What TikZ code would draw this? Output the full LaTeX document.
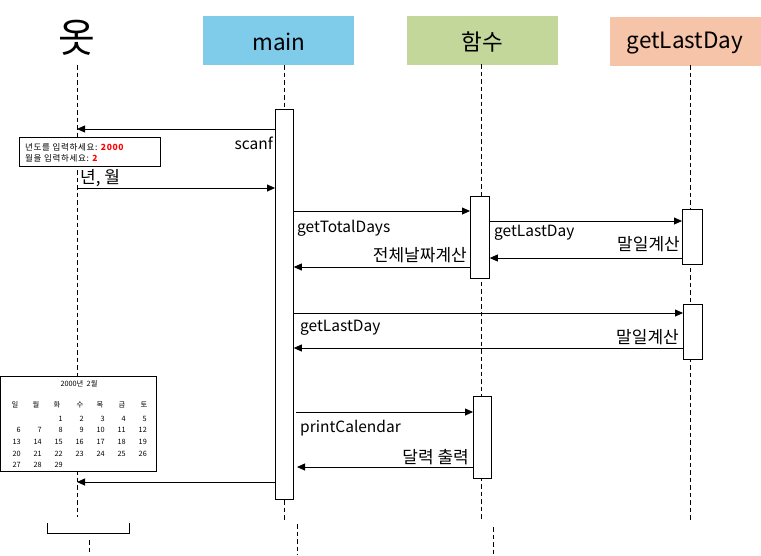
\documentclass[tikz,border=0pt]{standalone}
\usepackage{fontspec}
\setmainfont{Noto Sans CJK KR}
\usetikzlibrary{arrows.meta}
\definecolor{mainblue}{HTML}{7FCBEA}
\definecolor{funcgreen}{HTML}{C4D79B}
\definecolor{lastpeach}{HTML}{F6C4A8}
\tikzset{
  life/.style={line width=0.8pt, dash pattern=on 4.5pt off 3pt},
  headbox/.style={minimum width=151pt, minimum height=49pt, inner sep=0pt},
  headtxt/.style={inner sep=0pt, font=\fontsize{22.5}{24}\selectfont},
  actbox/.style={draw=black, fill=white, line width=0.8pt, inner sep=0pt},
  msg/.style={line width=0.8pt, -{Triangle[length=8pt,width=7pt]}},
  lbl/.style={inner sep=0pt, font=\fontsize{15.5}{17}\selectfont},
  lblk/.style={inner sep=0pt, font=\fontsize{17}{19}\selectfont},
  con/.style={inner sep=0pt, font=\fontsize{8.5}{9}\selectfont\addfontfeatures{LetterSpace=8}},
  cal/.style={inner sep=0pt, font=\fontsize{7.3}{8}\selectfont},
}
\begin{document}
\begin{tikzpicture}[x=1pt,y=-1pt]
\useasboundingbox (0,0) rectangle (761,555);
% headers
\node[inner sep=0pt, font=\fontsize{40}{42}\selectfont] (actor) at (77,38) {옷};
\node[headbox, fill=mainblue, anchor=north west] (mainH) at (203,16) {};
\node[headtxt] (mainT) at (279,42) {main};
\node[headbox, fill=funcgreen, anchor=north west] (funcH) at (407,16) {};
\node[headtxt] (funcT) at (482,42) {함수};
\node[headbox, fill=lastpeach, anchor=north west] (lastH) at (610,17) {};
\node[headtxt] (lastT) at (685,43) {getLastDay};
% lifeline coordinates
\coordinate (aTop) at (77,65);   \coordinate (aBot) at (77,517);
\coordinate (mTop) at (284,65);  \coordinate (mBot) at (284,522);
\coordinate (fTop) at (481,64);  \coordinate (fBot) at (481,521);
\coordinate (lTop) at (690,65);  \coordinate (lBot) at (690,522);
\draw[life] (aTop) -- (aBot);
\draw[life] (mTop) -- (mBot);
\draw[life] (fTop) -- (fBot);
\draw[life] (lTop) -- (lBot);
% shifted lower fragments
\coordinate (a2Top) at (89,540); \coordinate (a2Bot) at (89,555);
\coordinate (m2Top) at (297,524); \coordinate (m2Bot) at (297,555);
\coordinate (f2Top) at (493,527); \coordinate (f2Bot) at (493,555);
\draw[life] (a2Top) -- (a2Bot);
\draw[life] (m2Top) -- (m2Bot);
\draw[life] (f2Top) -- (f2Bot);
\coordinate (pb1) at (47,523); \coordinate (pb2) at (47,533);
\coordinate (pb3) at (129,533); \coordinate (pb4) at (129,523);
\draw[line width=0.8pt] (pb1) -- (pb2) -- (pb3) -- (pb4);
% activation boxes
\node[actbox, minimum width=18pt, minimum height=390pt, anchor=north west] (mA) at (275,109) {};
\node[actbox, minimum width=19pt, minimum height=82pt, anchor=north west] (fA1) at (470,196) {};
\node[actbox, minimum width=20pt, minimum height=55pt, anchor=north west] (lA1) at (682,209) {};
\node[actbox, minimum width=19pt, minimum height=55pt, anchor=north west] (lA2) at (683,304) {};
\node[actbox, minimum width=18pt, minimum height=82pt, anchor=north west] (fA2) at (473,396) {};
% console box
\node[draw=black, fill=white, line width=0.8pt, minimum width=141pt, minimum height=29pt, inner sep=0pt, anchor=north west] (conBox) at (19,137) {};
\node[con, anchor=west] (con1) at (25,147) {년도를 입력하세요: \textcolor{red}{\textbf{2000}}};
\node[con, anchor=west] (con2) at (25,158) {월을 입력하세요: \textcolor{red}{\textbf{2}}};
% calendar box
\node[draw=black, fill=white, line width=0.8pt, minimum width=156pt, minimum height=95pt, inner sep=0pt, anchor=north west] (calBox) at (0,376) {};
\node[cal] (calT) at (79,384) {2000년\ \ 2월};
\foreach \d/\x in {일/15,월/36,화/57,수/80,목/100,금/122,토/144}{
  \node[cal] at (\x,405) {\d};
}
\foreach \n/\c/\r in {1/3/1,2/4/1,3/5/1,4/6/1,5/7/1,
  6/1/2,7/2/2,8/3/2,9/4/2,10/5/2,11/6/2,12/7/2,
  13/1/3,14/2/3,15/3/3,16/4/3,17/5/3,18/6/3,19/7/3,
  20/1/4,21/2/4,22/3/4,23/4/4,24/5/4,25/6/4,26/7/4,
  27/1/5,28/2/5,29/3/5}{
  \pgfmathsetmacro{\xx}{21*\c}
  \pgfmathsetmacro{\yy}{407+11.6*\r}
  \node[cal, anchor=east] at (\xx,\yy) {\n};
}
% messages
\draw[msg] (mA.west |- 0,129) -- (aTop |- 0,129);
\node[lbl, anchor=east] (scanfL) at (273,143) {scanf};
\draw[msg] (aTop |- 0,188) -- (mA.west |- 0,188);
\node[lblk, anchor=west] (ymL) at (80,178) {년, 월};
\draw[msg] (mA.east |- 0,211) -- (fA1.west |- 0,211);
\node[lbl, anchor=west] (gtdL) at (297,228) {getTotalDays};
\draw[msg] (fA1.west |- 0,267) -- (mA.east |- 0,267);
\node[lblk, anchor=east] (totL) at (467,255) {전체날짜계산};
\draw[msg] (fA1.east |- 0,221) -- (lA1.west |- 0,221);
\node[lbl, anchor=west] (gld1L) at (494,233) {getLastDay};
\draw[msg] (lA1.west |- 0,258) -- (fA1.east |- 0,258);
\node[lblk, anchor=east] (ml1L) at (680,244) {말일계산};
\draw[msg] (mA.east |- 0,313) -- (lA2.west |- 0,313);
\node[lbl, anchor=west] (gld2L) at (300,328) {getLastDay};
\draw[msg] (lA2.west |- 0,348) -- (mA.east |- 0,348);
\node[lblk, anchor=east] (ml2L) at (679,337) {말일계산};
\coordinate (pcS) at (296,412);
\draw[msg] (pcS) -- (fA2.west |- pcS);
\node[lbl, anchor=west] (pcL) at (300,428) {printCalendar};
\coordinate (pcR) at (297,467);
\draw[msg] (fA2.west |- pcR) -- (pcR);
\node[lblk, anchor=east] (calL) at (469,457) {달력 출력};
\draw[msg] (mA.west |- 0,482) -- (aTop |- 0,482);
\end{tikzpicture}
\end{document}
